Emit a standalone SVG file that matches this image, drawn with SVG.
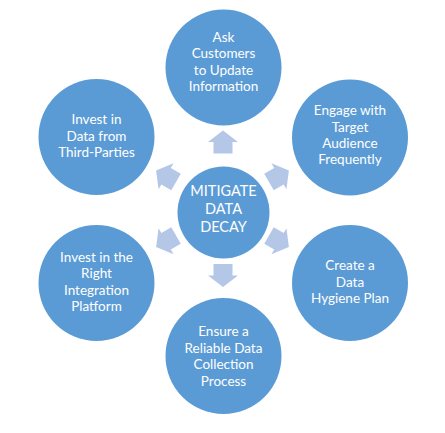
<svg xmlns="http://www.w3.org/2000/svg" width="445" height="433" viewBox="0 0 445 433">
<defs>
<style>
.node{fill:#5B9BD5;}
.arr{fill:#B4C7E7;}
.lbl{font-family:Lato,"Open Sans",sans-serif;font-size:13.5px;fill:#FFFFFF;text-anchor:middle;}
.big{font-family:Lato,"Open Sans",sans-serif;font-size:14.5px;fill:#FFFFFF;text-anchor:middle;}
</style>
<path id="ar" d="M0,-12 L15,-0.5 L9.5,-0.5 L9.5,11 L-9.5,11 L-9.5,-0.5 L-15,-0.5 Z"/>
</defs>
<rect width="445" height="433" fill="#FFFFFF"/>
<g id="connectors">
<use href="#ar" class="arr" transform="translate(223,142.5)"/>
<use href="#ar" class="arr" transform="translate(278.5,176.5) rotate(60)"/>
<use href="#ar" class="arr" transform="translate(278.5,241) rotate(120)"/>
<use href="#ar" class="arr" transform="translate(223,275) rotate(180)"/>
<use href="#ar" class="arr" transform="translate(166.5,241) rotate(240)"/>
<use href="#ar" class="arr" transform="translate(166.5,176.5) rotate(300)"/>
</g>
<g id="center">
<circle class="node" cx="223.5" cy="212.5" r="46"/>
<text class="big"><tspan x="223.5" y="196">MITIGATE</tspan><tspan x="223.5" y="214">DATA</tspan><tspan x="223.5" y="232">DECAY</tspan></text>
</g>
<g id="n-top">
<circle class="node" cx="223.5" cy="67.5" r="58"/>
<text class="lbl"><tspan x="223.5" y="41.5">Ask</tspan><tspan x="223.5" y="58">Customers</tspan><tspan x="223.5" y="74.5">to Update</tspan><tspan x="223.5" y="91">Information</tspan></text>
</g>
<g id="n-right-top">
<circle class="node" cx="350" cy="137.5" r="58"/>
<text class="lbl"><tspan x="350" y="115">Engage with</tspan><tspan x="350" y="131.5">Target</tspan><tspan x="350" y="148">Audience</tspan><tspan x="350" y="164">Frequently</tspan></text>
</g>
<g id="n-right-bottom">
<circle class="node" cx="350" cy="283" r="58"/>
<text class="lbl"><tspan x="350" y="270">Create a</tspan><tspan x="350" y="286.5">Data</tspan><tspan x="350" y="303">Hygiene Plan</tspan></text>
</g>
<g id="n-bottom">
<circle class="node" cx="223.5" cy="356" r="58"/>
<text class="lbl"><tspan x="223.5" y="336">Ensure a</tspan><tspan x="223.5" y="352.5">Reliable Data</tspan><tspan x="223.5" y="369">Collection</tspan><tspan x="223.5" y="385.5">Process</tspan></text>
</g>
<g id="n-left-bottom">
<circle class="node" cx="96.5" cy="283" r="58"/>
<text class="lbl"><tspan x="96.5" y="261.5">Invest in the</tspan><tspan x="96.5" y="278">Right</tspan><tspan x="96.5" y="294.5">Integration</tspan><tspan x="96.5" y="311">Platform</tspan></text>
</g>
<g id="n-left-top">
<circle class="node" cx="96.5" cy="137" r="58"/>
<text class="lbl"><tspan x="96.5" y="124">Invest in</tspan><tspan x="96.5" y="140.5">Data from</tspan><tspan x="96.5" y="157">Third-Parties</tspan></text>
</g>
</svg>
